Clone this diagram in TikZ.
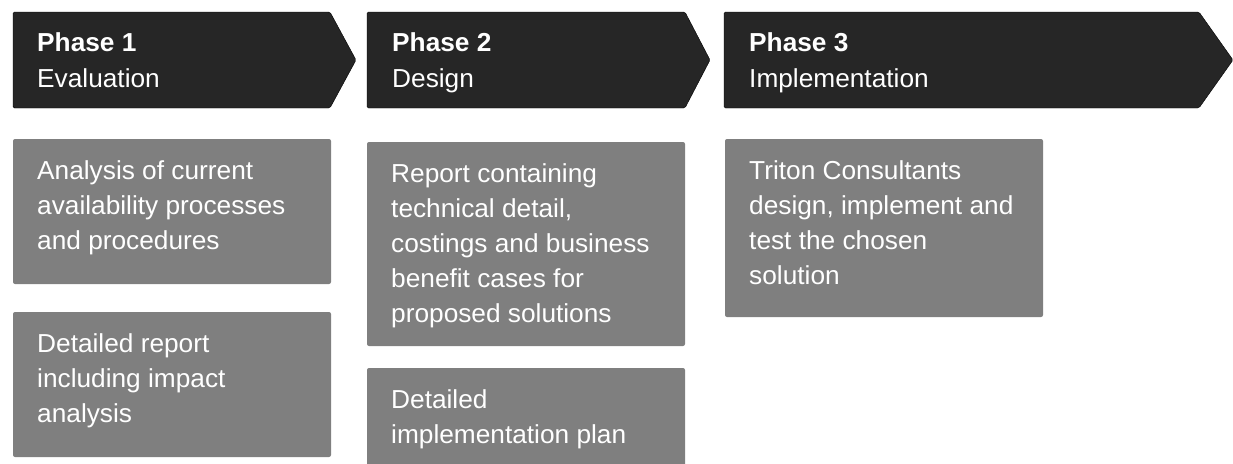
\documentclass[tikz,border=0pt]{standalone}
\usepackage{fontspec}
\setmainfont[FakeStretch=1.01]{Liberation Sans}
\definecolor{chevdark}{HTML}{262626}
\definecolor{boxgrey}{HTML}{7F7F7F}
\newcommand\textlines[1]{\vtop{\baselineskip=35pt\lineskiplimit=-100pt\halign{##\hfil\cr#1\crcr}}}
\newcommand\headlines[2]{\vtop{\baselineskip=36pt\lineskiplimit=-100pt\halign{##\hfil\cr\textbf{#1}\cr#2\crcr}}}
\tikzset{
  chev/.style={fill=chevdark, rounded corners=1.5pt},
  greybox/.style={fill=boxgrey, rounded corners=2pt, draw=none},
  lbl/.style={text=white, inner sep=0pt, anchor=base west, font=\fontsize{26}{35}\selectfont},
}
\begin{document}
\begin{tikzpicture}[x=1pt,y=-1pt]
\useasboundingbox (0,0) rectangle (1233,463);
% chevrons
\draw[chev] (13,12) -- (330,12) -- (356,60) -- (330,108) -- (13,108) -- cycle;
\draw[chev] (367,12) -- (685,12) -- (710,60) -- (685,108) -- (367,108) -- cycle;
\draw[chev] (724,12) -- (1199,12) -- (1233,60) -- (1199,108) -- (724,108) -- cycle;
\node[lbl] (h1) at (37,51) {\headlines{Phase 1}{Evaluation}};
\node[lbl] (h2) at (392,51) {\headlines{Phase 2}{Design}};
\node[lbl] (h3) at (749,51) {\headlines{Phase 3}{Implementation}};
% boxes
\path[greybox] (13,139) rectangle (331,284);
\path[greybox] (13,312) rectangle (331,457);
\path[greybox] (367,142) rectangle (685,346);
\path[greybox] (367,368) rectangle (685,470);
\path[greybox] (725,139) rectangle (1043,317);
\node[lbl] (t1) at (37,179) {\textlines{Analysis of current\cr availability processes\cr and procedures}};
\node[lbl] (t2) at (37,352) {\textlines{Detailed report\cr including impact\cr analysis}};
\node[lbl] (t3) at (391,182) {\textlines{Report containing\cr technical detail,\cr costings and business\cr benefit cases for\cr proposed solutions}};
\node[lbl] (t4) at (391,408) {\textlines{Detailed\cr implementation plan}};
\node[lbl] (t5) at (749,179) {\textlines{Triton Consultants\cr design, implement and\cr test the chosen\cr solution}};
\end{tikzpicture}
\end{document}
